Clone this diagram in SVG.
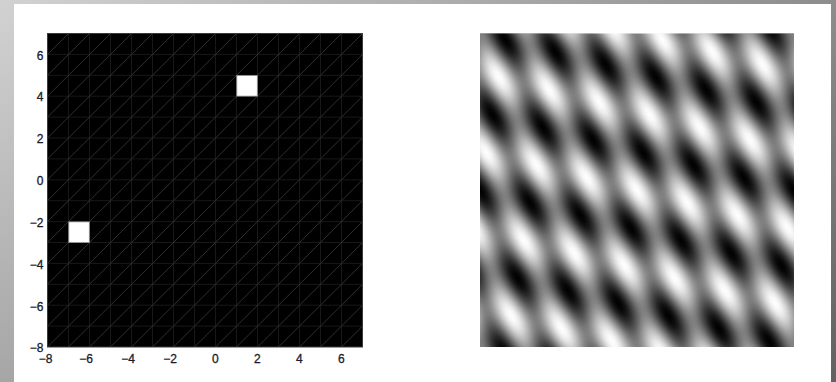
<svg xmlns="http://www.w3.org/2000/svg" width="836" height="382" viewBox="0 0 836 382">
<defs>
<linearGradient id="bg" gradientUnits="userSpaceOnUse" x1="0" y1="0" x2="468" y2="648">
<stop offset="0" stop-color="#d2d2d2"/><stop offset="1" stop-color="#616161"/>
</linearGradient>
<linearGradient id="wa" gradientUnits="userSpaceOnUse" spreadMethod="repeat" x1="637" y1="190.25" x2="655.47" y2="116.37">
<stop offset="0" stop-color="#fff"/><stop offset="0.0625" stop-color="#f5f5f5"/><stop offset="0.125" stop-color="#dadada"/><stop offset="0.1875" stop-color="#b0b0b0"/><stop offset="0.25" stop-color="#808080"/><stop offset="0.3125" stop-color="#4f4f4f"/><stop offset="0.375" stop-color="#252525"/><stop offset="0.4375" stop-color="#0a0a0a"/><stop offset="0.5" stop-color="#000"/><stop offset="0.5625" stop-color="#0a0a0a"/><stop offset="0.625" stop-color="#252525"/><stop offset="0.6875" stop-color="#4f4f4f"/><stop offset="0.75" stop-color="#808080"/><stop offset="0.8125" stop-color="#b0b0b0"/><stop offset="0.875" stop-color="#dadada"/><stop offset="0.9375" stop-color="#f5f5f5"/><stop offset="1" stop-color="#fff"/>
</linearGradient>
<linearGradient id="wb" href="#wa" gradientUnits="userSpaceOnUse" spreadMethod="repeat" x1="637" y1="190.25" x2="674.9" y2="174.01"/>
<clipPath id="pc"><rect x="47.5" y="33.5" width="315" height="313.5"/></clipPath>
<style>
.tk{font-family:"Liberation Sans",Arial,sans-serif;font-size:12px;fill:#1a1a2a;stroke:#1a1a2a;stroke-width:0.3}
.grid{stroke:#181818;stroke-width:1;fill:none}
.diag{stroke:#303030;stroke-width:1;fill:none}
.sq{fill:#fff;stroke:#9a9a9a;stroke-width:0.8}
</style>
</defs>
<rect id="background" x="0" y="0" width="836" height="382" fill="url(#bg)"/>
<rect id="panel" x="14" y="4" width="817" height="378" fill="#fff"/>
<g id="left-plot">
<rect x="47.5" y="33.5" width="315" height="313.5" fill="#000"/>
<g clip-path="url(#pc)">
<path class="grid" d="M68.5 33.5V347M89.5 33.5V347M110.5 33.5V347M131.5 33.5V347M152.5 33.5V347M173.5 33.5V347M194.5 33.5V347M215.5 33.5V347M236.5 33.5V347M257.5 33.5V347M278.5 33.5V347M299.5 33.5V347M320.5 33.5V347M341.5 33.5V347M47.5 54.4H362.5M47.5 75.3H362.5M47.5 96.2H362.5M47.5 117.1H362.5M47.5 138H362.5M47.5 158.9H362.5M47.5 179.8H362.5M47.5 200.7H362.5M47.5 221.6H362.5M47.5 242.5H362.5M47.5 263.4H362.5M47.5 284.3H362.5M47.5 305.2H362.5M47.5 326.1H362.5"/>
<path class="diag" d="M-246.5 347l315-313.5M-225.5 347l315-313.5M-204.5 347l315-313.5M-183.5 347l315-313.5M-162.5 347l315-313.5M-141.5 347l315-313.5M-120.5 347l315-313.5M-99.5 347l315-313.5M-78.5 347l315-313.5M-57.5 347l315-313.5M-36.5 347l315-313.5M-15.5 347l315-313.5M5.5 347l315-313.5M26.5 347l315-313.5M47.5 347l315-313.5M68.5 347l315-313.5M89.5 347l315-313.5M110.5 347l315-313.5M131.5 347l315-313.5M152.5 347l315-313.5M173.5 347l315-313.5M194.5 347l315-313.5M215.5 347l315-313.5M236.5 347l315-313.5M257.5 347l315-313.5M278.5 347l315-313.5M299.5 347l315-313.5M320.5 347l315-313.5M341.5 347l315-313.5"/>
</g>
<rect x="47.5" y="33.5" width="315" height="313.5" fill="none" stroke="#3a3a3a" stroke-width="1"/>
<rect id="sq1" class="sq" x="236.8" y="75.6" width="20.5" height="20.5"/>
<rect id="sq2" class="sq" x="68.8" y="221.9" width="20.5" height="20.5"/>
</g>
<g id="y-ticks" class="tk" text-anchor="end">
<text x="43.5" y="60">6</text>
<text x="43.5" y="101.3">4</text>
<text x="43.5" y="143.3">2</text>
<text x="43.5" y="185">0</text>
<text x="43.5" y="227.3">−2</text>
<text x="43.5" y="269">−4</text>
<text x="43.5" y="310.7">−6</text>
<text x="43.5" y="351.5">−8</text>
</g>
<g id="x-ticks" class="tk" text-anchor="middle">
<text x="45.5" y="363">−8</text>
<text x="86" y="363">−6</text>
<text x="128" y="363">−4</text>
<text x="170" y="363">−2</text>
<text x="215.3" y="363">0</text>
<text x="257.3" y="363">2</text>
<text x="299.3" y="363">4</text>
<text x="341.3" y="363">6</text>
</g>
<g id="right-image">
<rect x="480" y="33.5" width="314" height="313.5" fill="url(#wa)"/>
<rect x="480" y="33.5" width="314" height="313.5" fill="url(#wb)" opacity="0.5"/>
</g>
</svg>
